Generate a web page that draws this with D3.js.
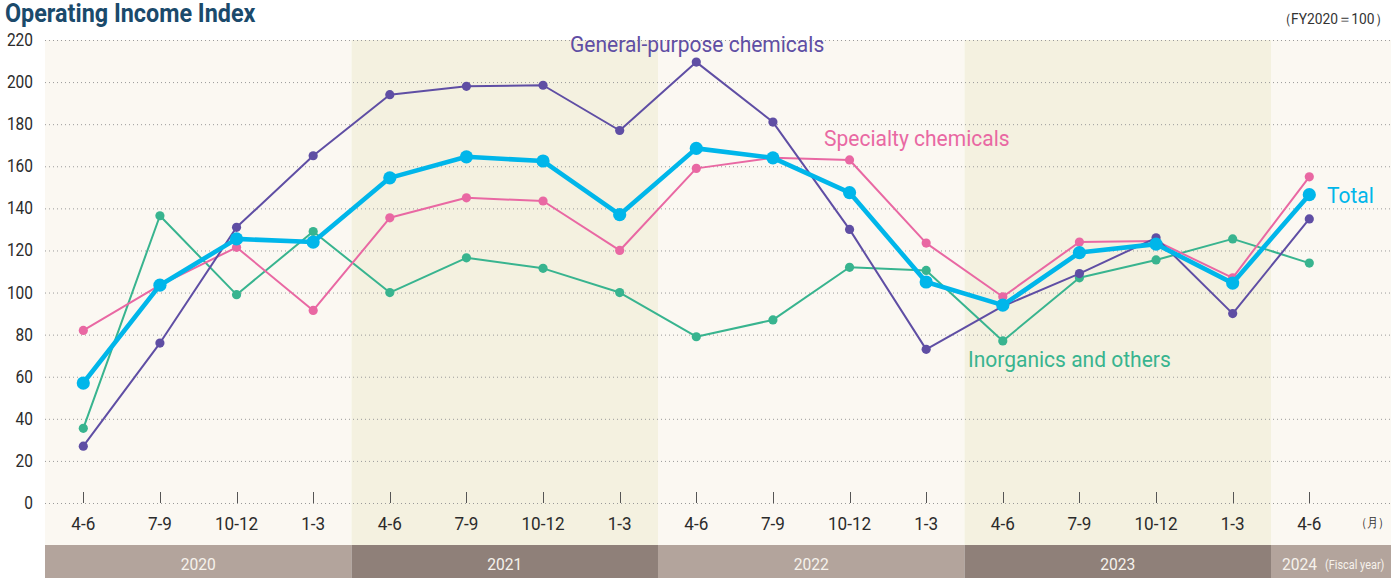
<!DOCTYPE html>
<html>
<head>
<meta charset="utf-8">
<script src="https://cdn.jsdelivr.net/npm/d3@7"></script>
<style>
  html, body { margin: 0; padding: 0; background: #ffffff; }
  svg { display: block; font-family: Roboto, "Noto Sans", sans-serif; }
</style>
</head>
<body>
<svg id="chart" width="1391" height="578"></svg>
<script>
// Quarters (April–March fiscal years)
const quarters = ["4-6","7-9","10-12","1-3","4-6","7-9","10-12","1-3","4-6","7-9","10-12","1-3","4-6","7-9","10-12","1-3","4-6"];
const fiscalYears = ["2020","2021","2022","2023","2024"];
const yearQuarterCounts = [4, 4, 4, 4, 1];
const yTicks = [0,20,40,60,80,100,120,140,160,180,200,220];

// Operating income index, FY2020 = 100
const generalPurpose = [27, 76, 131, 165, 194, 198, 198.5, 177, 209.5, 181, 130, 73, 93.5, 109, 126, 90, 135];
const specialty      = [82, 103.5, 121.5, 91.5, 135.5, 145, 143.5, 120, 159, 164, 163, 123.5, 98, 124, 124.5, 107, 155];
const inorganics     = [35.5, 136.5, 99, 129, 100, 116.5, 111.5, 100, 79, 87, 112, 110.5, 77, 107, 115.5, 125.5, 114];
const total          = [57, 103.5, 125.5, 124, 154.5, 164.5, 162.5, 137, 168.5, 164, 147.5, 105, 94, 119, 123, 104.5, 146.5];

const svg = d3.select("#chart");
const W = 1391;
const plotLeft = 45, plotRight = W, plotTop = 40, plotBottom = 545;

const x = d3.scaleLinear().domain([0, quarters.length - 1]).range([83.3, 1309.3]);
const y = d3.scaleLinear().domain([0, 220]).range([503, 40]);

// condensed text helper
const SX = 0.84;
function ctext(g, tx, ty, str, opts = {}) {
  return g.append("text")
    .attr("transform", `translate(${tx},${ty}) scale(${opts.sx || SX},1)`)
    .attr("text-anchor", opts.anchor || "start")
    .attr("font-size", opts.size || 17)
    .attr("fill", opts.fill || "#333")
    .attr("font-weight", opts.weight || 400)
    .text(str);
}

// alternating fiscal-year background bands and footer bar
let start = 0;
const bands = fiscalYears.map((fy, i) => {
  const x0 = i === 0 ? plotLeft : x(start - 0.5);
  const end = start + yearQuarterCounts[i];
  const x1 = i === fiscalYears.length - 1 ? plotRight : x(end - 0.5);
  const b = { fy, x0, x1, dark: i % 2 === 1 };
  start = end;
  return b;
});

svg.append("g").selectAll("rect").data(bands).join("rect")
  .attr("x", d => d.x0).attr("y", plotTop)
  .attr("width", d => d.x1 - d.x0).attr("height", plotBottom - plotTop)
  .attr("fill", d => d.dark ? "#f4f1e0" : "#fbf8f2");

svg.append("g").selectAll("rect").data(bands).join("rect")
  .attr("x", d => d.x0).attr("y", plotBottom)
  .attr("width", d => d.x1 - d.x0).attr("height", 578 - plotBottom)
  .attr("fill", d => d.dark ? "#8f8079" : "#b3a49c");

const footer = svg.append("g");
bands.forEach((b, i) => {
  if (i === bands.length - 1) {
    ctext(footer, b.x0 + 11, 570, b.fy, { size: 17, fill: "#f6f2ec", sx: 0.92 });
    ctext(footer, b.x0 + 54, 569, "(Fiscal year)", { size: 13, fill: "#f6f2ec", sx: 0.84 });
  } else {
    ctext(footer, (b.x0 + b.x1) / 2, 570, b.fy, { size: 17, fill: "#f6f2ec", anchor: "middle", sx: 0.92 });
  }
});

// horizontal dotted grid
svg.append("g").selectAll("line").data(yTicks).join("line")
  .attr("x1", plotLeft).attr("x2", plotRight)
  .attr("y1", d => y(d) + 0.5).attr("y2", d => y(d) + 0.5)
  .attr("stroke", "#9a9a9a").attr("stroke-width", 1)
  .attr("stroke-dasharray", "1,3");

// y axis labels
const yAxisG = svg.append("g");
yTicks.forEach(v => ctext(yAxisG, 33, y(v) + 6, v, { anchor: "end", size: 18, fill: "#2b2b2b", sx: 0.86 }));

// x ticks and labels
const xAxisG = svg.append("g");
xAxisG.selectAll("line").data(quarters).join("line")
  .attr("x1", (d, i) => Math.round(x(i)) + 0.5).attr("x2", (d, i) => Math.round(x(i)) + 0.5)
  .attr("y1", 492).attr("y2", 503)
  .attr("stroke", "#555").attr("stroke-width", 1);
quarters.forEach((q, i) => ctext(xAxisG, x(i), 530, q, { anchor: "middle", size: 18, fill: "#2b2b2b", sx: 0.95 }));
ctext(xAxisG, 1389, 527, "（月）", { anchor: "end", size: 13, fill: "#333", sx: 0.85 });

// series
const series = [
  { values: inorganics, color: "#38b48f", width: 2, r: 4.6 },
  { values: specialty, color: "#e968a3", width: 2, r: 4.6 },
  { values: generalPurpose, color: "#5f4ea4", width: 2, r: 4.6 },
  { values: total, color: "#00b6ea", width: 4.6, r: 6.6 }
];
const line = d3.line().x((d, i) => x(i)).y(d => y(d));
series.forEach(s => {
  const g = svg.append("g");
  g.append("path").datum(s.values)
    .attr("d", line).attr("fill", "none")
    .attr("stroke", s.color).attr("stroke-width", s.width)
    .attr("stroke-linejoin", "round");
  g.selectAll("circle").data(s.values).join("circle")
    .attr("cx", (d, i) => x(i)).attr("cy", d => y(d))
    .attr("r", s.r).attr("fill", s.color);
});

// series labels
const labels = svg.append("g");
const lblOpts = { size: 22, sx: 0.955 };
ctext(labels, 570, 52, "General-purpose chemicals", { ...lblOpts, fill: "#5f4ea4" });
ctext(labels, 824, 146, "Specialty chemicals", { ...lblOpts, fill: "#e968a3" });
ctext(labels, 1327, 203, "Total", { ...lblOpts, fill: "#00b6ea" });
ctext(labels, 968, 367, "Inorganics and others", { ...lblOpts, fill: "#38b48f" });

// title and base note
ctext(svg, 5, 22, "Operating Income Index", { size: 25, fill: "#1b4a6b", weight: 700, sx: 0.935 });
ctext(svg, 1388, 24, "（FY2020＝100）", { anchor: "end", size: 15, fill: "#333", sx: 0.92 });
</script>
</body>
</html>
